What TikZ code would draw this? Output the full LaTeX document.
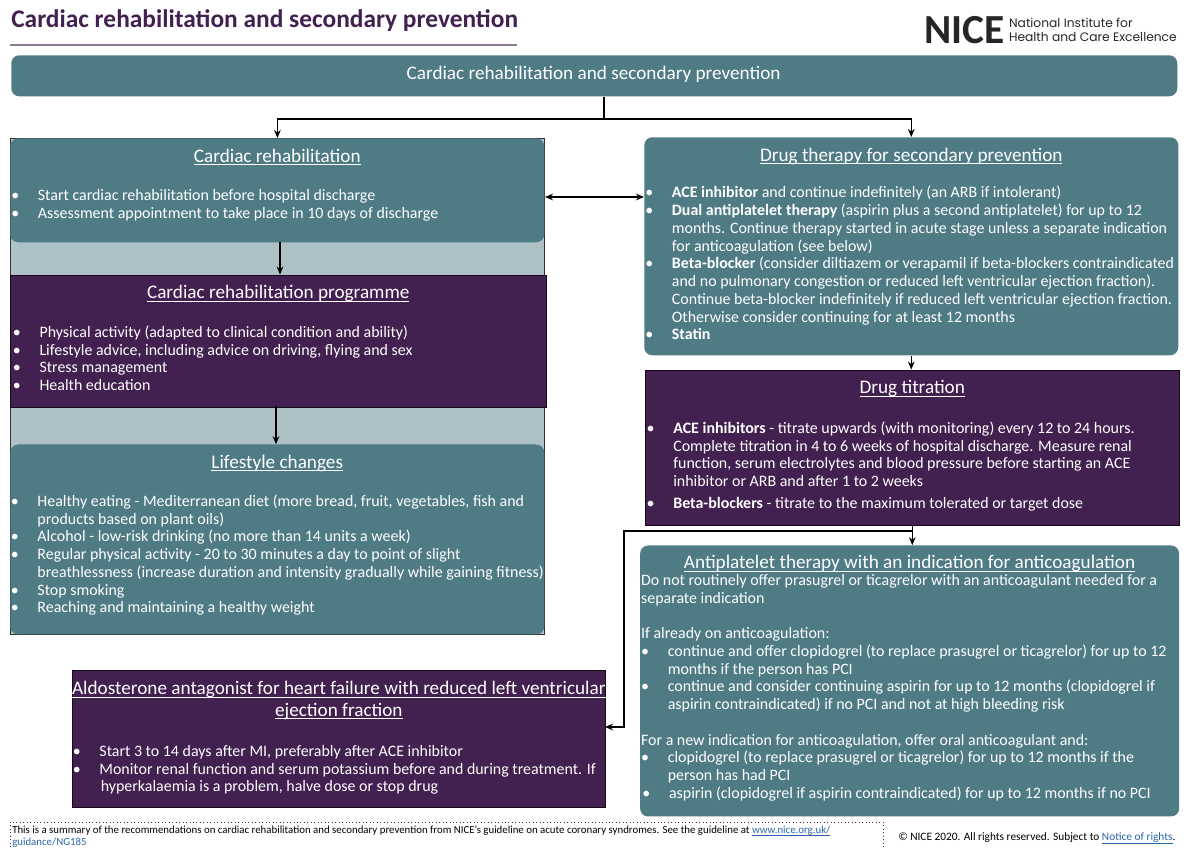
\documentclass[tikz,border=0pt]{standalone}
\usepackage{fontspec}
\setmainfont{Carlito}
\newfontfamily\logofont{Poppins}
\usepackage{tikz}
\usetikzlibrary{positioning,arrows.meta,calc}

\definecolor{niceteal}{HTML}{4F7B85}
\definecolor{nicepurple}{HTML}{42204F}
\definecolor{nicepale}{HTML}{AEC1C6}
\definecolor{nicelink}{HTML}{2A64A8}
\newcommand{\bl}{\makebox[17pt][l]{\hspace*{-3pt}\textbullet}}
\newcommand{\nb}{\hspace*{17pt}}
\newsavebox{\ulnbox}
\newcommand{\uln}[1]{\sbox{\ulnbox}{#1}\rlap{\rule[-2pt]{\wd\ulnbox}{0.5pt}}\usebox{\ulnbox}}

\begin{document}
\begin{tikzpicture}[
  x=0.75pt, y=-0.75pt,
  boxsize/.style 2 args={minimum width=#1*0.75pt, minimum height=#2*0.75pt, inner sep=0pt},
  tealbox/.style={rectangle, rounded corners=6pt, fill=niceteal},
  purplebox/.style={rectangle, fill=nicepurple, draw=black!70!nicepurple, line width=0.5pt},
  titletext/.style={font=\fontsize{14.4}{16}\selectfont, text=white, align=center, inner sep=0pt,
                anchor=north},
  title/.style={titletext, yshift=-1.5pt, text height=9pt, text depth=3pt},
  body/.style={font=\fontsize{11.95}{13.3}\selectfont, text=white, align=left, inner sep=0pt,
               anchor=north west, yshift=-2pt, execute at begin node=\strut},
  arr/.style={-{Stealth[length=6pt,width=5pt]}, line width=1.1pt, black}
]
\useasboundingbox (0,0) rectangle (1200,847);

% heading and logo
\node[font=\fontsize{19.05}{22}\selectfont\bfseries, text=nicepurple, anchor=west, inner sep=0pt] (doctitle) at (11,21) {Cardiac rehabilitation and secondary prevention};
\coordinate (ruleL) at (10,45);
\coordinate (ruleR) at (517,45);
\draw[nicepurple!60, line width=0.8pt] (ruleL) -- (ruleR);
\node[font=\fontsize{31}{31}\selectfont\bfseries, text=black!85, anchor=west, inner sep=0pt] (logo) at (924,30) {NICE};
\node[font=\logofont\fontsize{9.2}{10.5}\selectfont, text=black!85, anchor=west, align=left, inner sep=0pt, right=3pt of logo] (logotext) {National Institute for\\Health and Care Excellence};

% top box
\node[tealbox, boxsize={1166}{41}, anchor=north west] (main) at (11,55) {};
\node[title, below=7.5pt of main.north, xshift=-0.5pt] (maintitle) {Cardiac rehabilitation and secondary prevention};

% left column
\node[rectangle, fill=nicepale, draw=black!80, line width=0.6pt, boxsize={534}{496}, anchor=north west] (rehabgroup) at (10,138) {};
\node[tealbox, boxsize={534}{104}, anchor=north west] (rehab) at (10,138) {};
\node[title, below=7.5pt of rehab.north] (rehabtitle) {\uln{Cardiac rehabilitation}};
\node[body, below right=36.3pt and 3.75pt of rehab.north west] (rehabbody) {%
\bl Start cardiac rehabilitation before hospital discharge\\
\bl Assessment appointment to take place in 10 days of discharge};

\node[purplebox, boxsize={536}{132}, below=24pt of rehab, xshift=0.75pt] (prog) {};
\node[title, below=7.5pt of prog.north] (progtitle) {\uln{Cardiac rehabilitation programme}};
\node[body, below right=36.2pt and 5pt of prog.north west] (progbody) {%
\bl Physical activity (adapted to clinical condition and ability)\\
\bl Lifestyle advice, including advice on driving, flying and sex\\
\bl Stress management\\
\bl Health education};

\node[tealbox, boxsize={534}{190}, below=27.75pt of prog, xshift=-0.75pt] (life) {};
\node[title, below=7.5pt of life.north] (lifetitle) {\uln{Lifestyle changes}};
\node[body, below right=35.8pt and 3.4pt of life.north west] (lifebody) {%
\bl Healthy eating - Mediterranean diet (more bread, fruit, vegetables, fish and\\
\nb products based on plant oils)\\
\bl Alcohol - low-risk drinking (no more than 14 units a week)\\
\bl Regular physical activity - 20 to 30 minutes a day to point of slight\\
\nb breathlessness (increase duration and intensity gradually while gaining fitness)\\
\bl Stop smoking\\
\bl Reaching and maintaining a healthy weight};

% right column
\node[tealbox, boxsize={534}{218}, anchor=north west] (drug) at (644,137) {};
\node[title, below=7.5pt of drug.north] (drugtitle) {\uln{Drug therapy for secondary prevention}};
\node[body, below right=34.8pt and 3.75pt of drug.north west] (drugbody) {%
\bl\textbf{ACE inhibitor} and continue indefinitely (an ARB if intolerant)\\
\bl\textbf{Dual antiplatelet therapy} (aspirin plus a second antiplatelet) for up to 12\\
\nb months. Continue therapy started in acute stage unless a separate indication\\
\nb for anticoagulation (see below)\\
\bl\textbf{Beta-blocker} (consider diltiazem or verapamil if beta-blockers contraindicated\\
\nb and no pulmonary congestion or reduced left ventricular ejection fraction).\\
\nb Continue beta-blocker indefinitely if reduced left ventricular ejection fraction.\\
\nb Otherwise consider continuing for at least 12 months\\
\bl\textbf{Statin}};

\node[purplebox, boxsize={534}{155}, below=10.5pt of drug, xshift=0.75pt] (titr) {};
\node[title, below=7.5pt of titr.north] (titrtitle) {\uln{Drug titration}};
\node[body, below right=37pt and 4.1pt of titr.north west] (titrbody) {%
\bl\textbf{ACE inhibitors} - titrate upwards (with monitoring) every 12 to 24 hours.\\
\nb Complete titration in 4 to 6 weeks of hospital discharge. Measure renal\\
\nb function, serum electrolytes and blood pressure before starting an ACE\\
\nb inhibitor or ARB and after 1 to 2 weeks\\[3.2pt]
\bl\textbf{Beta-blockers} - titrate to the maximum tolerated or target dose};

\node[tealbox, boxsize={539}{271}, below=15pt of titr, xshift=-2pt] (anti) {};
\node[title, below=7pt of anti.north] (antititle) {\uln{Antiplatelet therapy with an indication for anticoagulation}};
\node[body, below right=19.7pt and 0.75pt of anti.north west] (antibody) {%
Do not routinely offer prasugrel or ticagrelor with an anticoagulant needed for a\\
separate indication\\[13.3pt]
If already on anticoagulation:\\
\hspace*{3pt}\bl continue and offer clopidogrel (to replace prasugrel or ticagrelor) for up to 12\\
\hspace*{3pt}\nb months if the person has PCI\\
\hspace*{3pt}\bl continue and consider continuing aspirin for up to 12 months (clopidogrel if\\
\hspace*{3pt}\nb aspirin contraindicated) if no PCI and not at high bleeding risk\\[13.3pt]
For a new indication for anticoagulation, offer oral anticoagulant and:\\
\hspace*{3pt}\bl clopidogrel (to replace prasugrel or ticagrelor) for up to 12 months if the\\
\hspace*{3pt}\nb person has had PCI\\
\hspace*{4pt}\bl aspirin (clopidogrel if aspirin contraindicated) for up to 12 months if no PCI};

\node[purplebox, boxsize={533}{137}, anchor=north west] (aldo) at (72,670) {};
\node[titletext, below=8.5pt of aldo.north] (aldotitle) {\uln{Aldosterone antagonist for heart failure with reduced left ventricular}\\\uln{ejection fraction}};
\node[body, below right=54.3pt and 3.4pt of aldo.north west] (aldobody) {%
\bl Start 3 to 14 days after MI, preferably after ACE inhibitor\\
\bl Monitor renal function and serum potassium before and during treatment. If\\
\nb\hspace*{1pt}hyperkalaemia is a problem, halve dose or stop drug};

% connectors
\coordinate (split) at (604,119);
\draw[line width=1.1pt] (main.south -| split) -- (split);
\draw[arr] (split) -| (rehabgroup.north);
\draw[arr] (split) -| (drug.north);
\coordinate (rehabdrop) at (280,242);
\draw[arr] (rehabdrop) -- (rehabdrop |- prog.north);
\coordinate (progdrop) at (276,406);
\draw[arr] (progdrop) -- (progdrop |- life.north);
\coordinate (linkL) at (545,197);
\coordinate (linkR) at (644,197);
\draw[{Stealth[length=6pt,width=5pt]}-{Stealth[length=6pt,width=5pt]}, line width=1.1pt] (linkL) -- (linkR);
\draw[arr] (drug.south) -- (drug.south |- titr.north);
\draw[arr] (titr.south) -- (titr.south |- anti.north);
\coordinate (branch) at (912,531);
\coordinate (branchL) at (624,531);
\coordinate (aldoin) at (605,727);
\draw[arr] (branch) -- (branchL) |- (aldoin);

% footer
\coordinate (footA) at (10,847);
\coordinate (footB) at (10,822);
\coordinate (footC) at (883,822);
\coordinate (footD) at (883,847);
\draw[black!80, line width=0.6pt, dotted] (footA) -- (footB) -- (footC) -- (footD);
\node[font=\fontsize{8.13}{8.9}\selectfont, text=black, align=left, anchor=north west, inner sep=0pt] (footnote) at (12,825.5) {This is a summary of the recommendations on cardiac rehabilitation and secondary prevention from NICE's guideline on acute coronary syndromes. See the guideline at {\color{nicelink}\uln{www.nice.org.uk/}}\\{\color{nicelink}guidance/NG185}};
\node[font=\fontsize{8.5}{10}\selectfont, text=black, anchor=west, inner sep=0pt] (rights) at (898,838) {© NICE 2020. All rights reserved. Subject to {\color{nicelink}\uln{Notice of rights}}.};
\end{tikzpicture}
\end{document}
